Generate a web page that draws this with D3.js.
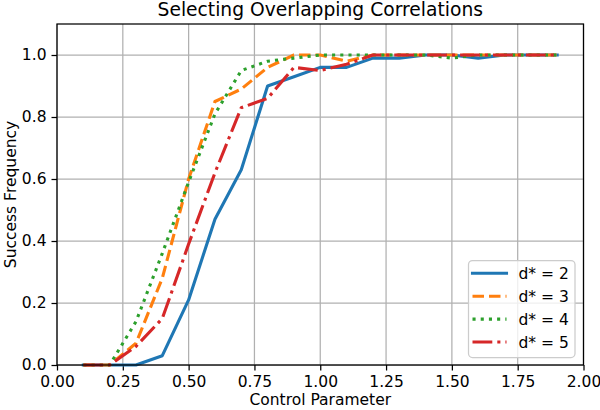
<!DOCTYPE html>
<html><head><meta charset="utf-8">
<script src="https://cdn.jsdelivr.net/npm/d3@7/dist/d3.min.js"></script>
<style>
body{margin:0;background:#fff}
text{font-family:"DejaVu Sans",sans-serif;fill:#000}
</style>
</head><body>
<svg id="chart" width="600" height="410"></svg>
<script>
// ---- data ----
const xValues = [0.1,0.2,0.3,0.4,0.5,0.6,0.7,0.8,0.9,1.0,1.1,1.2,1.3,1.4,1.5,1.6,1.7,1.8,1.9];
const d2 = [0,0,0,0.03,0.21,0.47,0.63,0.90,0.93,0.96,0.96,0.99,0.99,1.0,1.0,0.99,1.0,1.0,1.0];
const d3v = [0,0,0.07,0.28,0.60,0.85,0.89,0.96,1.0,1.0,0.98,1.0,1.0,1.0,1.0,1.0,1.0,1.0,1.0];
const d4 = [0,0,0.14,0.36,0.59,0.81,0.95,0.98,0.99,1.0,1.0,1.0,1.0,1.0,0.99,1.0,1.0,1.0,1.0];
const d5 = [0,0,0.06,0.15,0.39,0.62,0.83,0.86,0.96,0.95,0.97,1.0,1.0,1.0,1.0,1.0,1.0,1.0,1.0];
const seriesLabels = ["d* = 2","d* = 3","d* = 4","d* = 5"];
const xTicks = [0,0.25,0.5,0.75,1.0,1.25,1.5,1.75,2.0];
const yTicks = [0,0.2,0.4,0.6,0.8,1.0];
const titleText = "Selecting Overlapping Correlations";
const xLabel = "Control Parameter";
const yLabel = "Success Frequency";

// ---- styles ----
const colors = ["#1f77b4","#ff7f0e","#2ca02c","#d62728"];
const lw = 3.1;
const dashes = [null, [11.5,5].join(","), [3.1,5.1].join(","), [19.8,5,3.1,5].join(",")];
const seriesValues = [d2,d3v,d4,d5];

const L=57, R=583.5, T=24, B=365;
const svg = d3.select("#chart");
const x = d3.scaleLinear().domain([0,2]).range([L,R]);
const y = d3.scaleLinear().domain([0,1.1]).range([B,T]);

// grid
const grid = svg.append("g");
grid.selectAll("line.vx").data(xTicks).join("line")
  .attr("x1",d=>x(d)).attr("x2",d=>x(d)).attr("y1",T).attr("y2",B)
  .attr("stroke","#b0b0b0").attr("stroke-width",1.25);
grid.selectAll("line.hy").data(yTicks).join("line")
  .attr("x1",L).attr("x2",R).attr("y1",d=>y(d)).attr("y2",d=>y(d))
  .attr("stroke","#b0b0b0").attr("stroke-width",1.25);

// axes
const fs = 15.5;
const xAxis = d3.axisBottom(x).tickValues(xTicks).tickFormat(d3.format(".2f")).tickSize(5.5).tickPadding(5);
const yAxis = d3.axisLeft(y).tickValues(yTicks).tickFormat(d3.format(".1f")).tickSize(5.5).tickPadding(5);
const gx = svg.append("g").attr("transform",`translate(0,${B})`).call(xAxis);
const gy = svg.append("g").attr("transform",`translate(${L},0)`).call(yAxis);
[gx,gy].forEach(g=>{
  g.select(".domain").remove();
  g.selectAll(".tick line").attr("stroke","#000").attr("stroke-width",1.25);
  g.selectAll(".tick text").attr("font-size",fs).attr("font-family","DejaVu Sans").attr("fill","#000");
});

// lines
const line = d3.line().x((d,i)=>x(xValues[i])).y(d=>y(d));
const lg = svg.append("g");
seriesValues.forEach((vals,k)=>{
  lg.append("path").datum(vals).attr("d",line)
    .attr("fill","none").attr("stroke",colors[k]).attr("stroke-width",lw)
    .attr("stroke-linejoin","round")
    .attr("stroke-linecap",k===0?"square":"butt")
    .attr("stroke-dasharray",dashes[k]);
});

// spines
svg.append("rect").attr("x",L).attr("y",T).attr("width",R-L).attr("height",B-T)
  .attr("fill","none").attr("stroke","#000").attr("stroke-width",1.25);

// title and labels
svg.append("text").attr("x",(L+R)/2).attr("y",16).attr("text-anchor","middle")
  .attr("font-size",18.7).text(titleText);
svg.append("text").attr("x",(L+R)/2).attr("y",405).attr("text-anchor","middle")
  .attr("font-size",fs).text(xLabel);
svg.append("text").attr("transform",`translate(16,${(T+B)/2}) rotate(-90)`).attr("text-anchor","middle")
  .attr("font-size",fs).text(yLabel);

// legend
const leg = svg.append("g");
leg.append("rect").attr("x",468.5).attr("y",260.5).attr("width",106.5).attr("height",97)
  .attr("rx",4).attr("fill","#fff").attr("fill-opacity",0.8).attr("stroke","#cccccc").attr("stroke-width",1.25);
const rowY = d3.scalePoint().domain(seriesLabels).range([273.3,342]);
seriesLabels.forEach((lab,k)=>{
  leg.append("line").attr("x1",472.5).attr("x2",506.5).attr("y1",rowY(lab)).attr("y2",rowY(lab))
    .attr("stroke",colors[k]).attr("stroke-width",lw)
    .attr("stroke-linecap",k===0?"square":"butt")
    .attr("stroke-dasharray",dashes[k]);
  leg.append("text").attr("x",518.5).attr("y",rowY(lab)+5.6).attr("font-size",fs).text(lab);
});
</script>
</body></html>
